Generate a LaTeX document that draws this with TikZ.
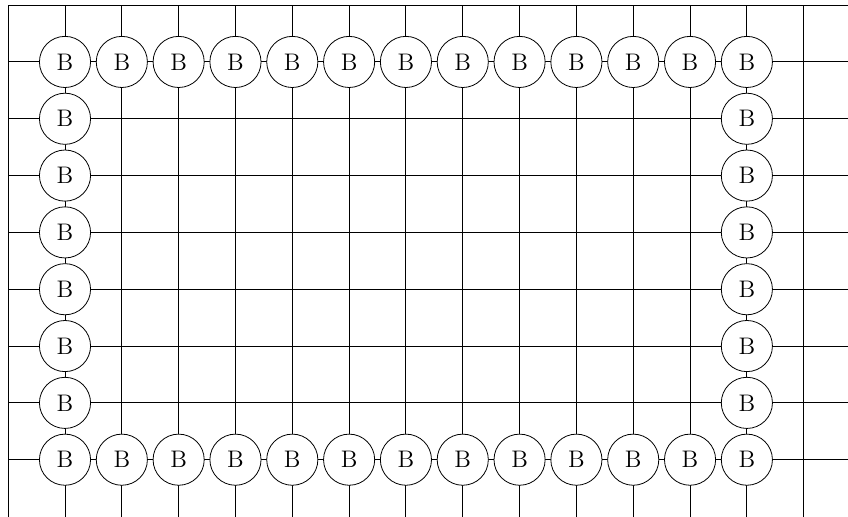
\documentclass[tikz,border=0pt]{standalone}
\begin{document}
\begin{tikzpicture}[x=1cm,y=-1cm,
  gridline/.style={line width=0.5pt},
  bnode/.style={circle,draw,fill=white,minimum size=0.9cm,inner sep=0pt,font=\fontsize{12}{14}\selectfont}]
\useasboundingbox (-1.144,-1.09) rectangle (13.78,8);
% grid
\foreach \r in {-1,...,7} {
  \coordinate (hl\r) at (-1,\r);
  \coordinate (hr\r) at (13.78,\r);
  \draw[gridline] (hl\r) -- (hr\r);
}
\foreach \c in {-1,...,13} {
  \coordinate (vt\c) at (\c,-1);
  \coordinate (vb\c) at (\c,8);
  \draw[gridline] (vt\c) -- (vb\c);
}
% border nodes
\foreach \c in {0,...,12} {
  \node[bnode] (t\c) at (\c,0) {B};
  \node[bnode] (b\c) at (\c,7) {B};
}
\foreach \r in {1,...,6} {
  \node[bnode] (l\r) at (0,\r) {B};
  \node[bnode] (r\r) at (12,\r) {B};
}
\end{tikzpicture}
\end{document}
